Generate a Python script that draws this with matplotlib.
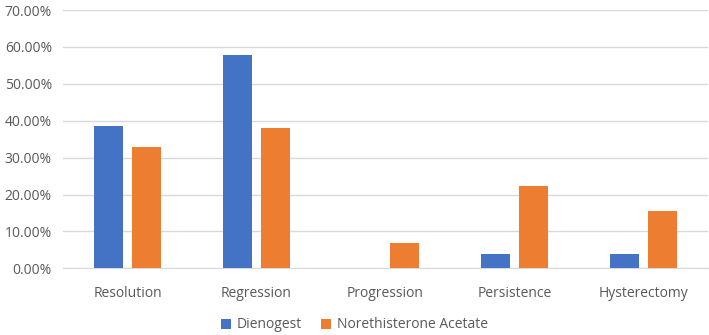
import matplotlib
matplotlib.use("Agg")
import matplotlib.pyplot as plt
import numpy as np
from matplotlib.ticker import FuncFormatter, MultipleLocator

categories = ["Resolution", "Regression", "Progression", "Persistence", "Hysterectomy"]
dienogest = [38.46, 57.69, 0.0, 3.85, 3.85]
neta = [32.76, 37.93, 6.90, 22.41, 15.52]
series_names = ["Dienogest", "Norethisterone Acetate"]
colors = ["#4472C4", "#ED7D31"]

plt.rcParams['font.family'] = ['Open Sans', 'DejaVu Sans']

W, H = 709, 335
fig = plt.figure(figsize=(W/100, H/100), dpi=100)
ax = fig.add_axes([63/W, 1-268.3/H, (708-63)/W, (268.3-10)/H])

x = np.arange(len(categories))
bw = 0.225
gap = 0.065
ax.bar(x - (bw+gap)/2, dienogest, width=bw, color=colors[0], label=series_names[0], zorder=3)
ax.bar(x + (bw+gap)/2, neta, width=bw, color=colors[1], label=series_names[1], zorder=3)

ax.set_xlim(-0.5, len(categories)-0.5)
ax.set_ylim(0, 70)
ax.yaxis.set_major_locator(MultipleLocator(10))
ax.yaxis.set_major_formatter(FuncFormatter(lambda v, p: f"{v:.2f}%"))
ax.grid(axis='y', color='#D9D9D9', linewidth=1, zorder=0)
for s in ['top', 'right', 'left']:
    ax.spines[s].set_visible(False)
ax.spines['bottom'].set_color('#D9D9D9')
ax.tick_params(axis='both', length=0, labelsize=10, labelcolor='#595959')
ax.tick_params(axis='x', pad=13)
ax.tick_params(axis='y', pad=8)
ax.set_xticks(x)
ax.set_xticklabels(categories)

fig.legend(loc='center', bbox_to_anchor=(0.5, 1-325/H), ncol=2, frameon=False,
           fontsize=10, labelcolor='#595959', handlelength=0.7, handleheight=0.7,
           handletextpad=0.4, columnspacing=1.4)

fig.savefig("out.png", dpi=100)
